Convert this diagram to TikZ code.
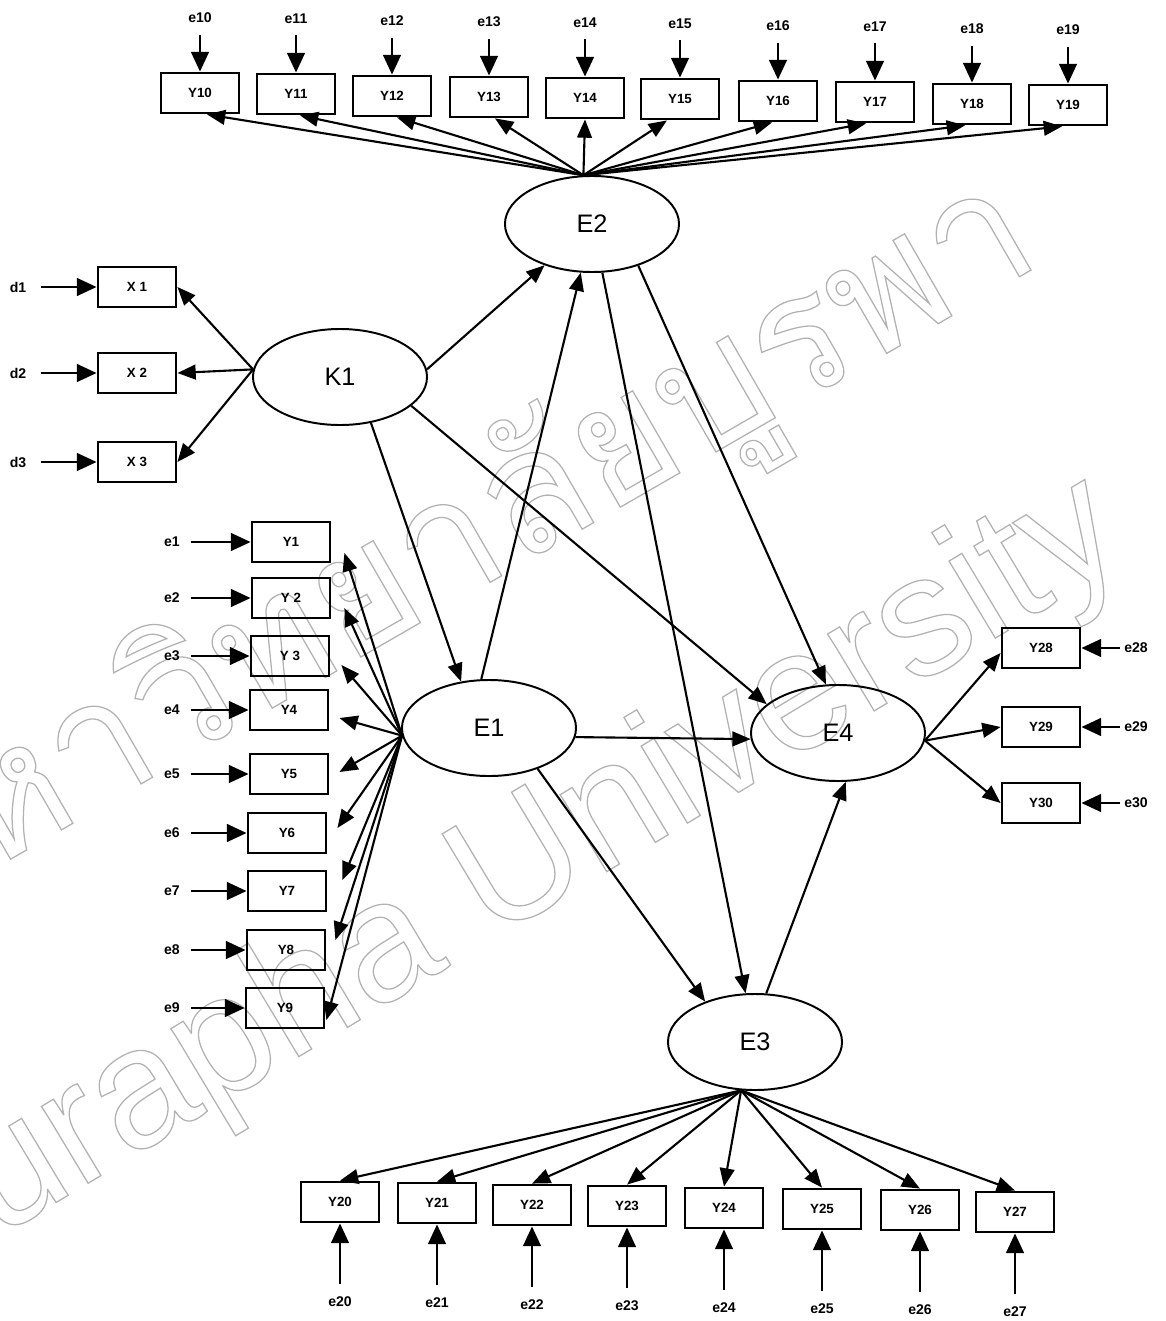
\documentclass[tikz,border=0pt]{standalone}
\usepackage{fontspec}
\setmainfont{Liberation Sans}
\newfontfamily\thaifont[Script=Thai]{Loma}
\usetikzlibrary{arrows.meta,shapes.geometric,calc}

% hollow (stroked only) glyphs for the background lettering
\newcommand\hollowtext[1]{\special{pdf:literal direct 1 Tr 0.9 w}#1\special{pdf:literal direct 0 Tr}}

\tikzset{
  obs/.style={draw, line width=2pt, minimum width=1.95cm, minimum height=1cm,
    inner sep=0pt, font=\fontsize{9.5}{9.5}\bfseries\selectfont},
  lat/.style={draw, ellipse, line width=1.4pt, minimum width=4.35cm,
    minimum height=2.4cm, inner sep=0pt, font=\fontsize{18}{18}\selectfont},
  errlabel/.style={inner sep=2pt, font=\fontsize{10}{10}\bfseries\selectfont},
  link/.style={line width=1.5pt, -{Triangle[length=13pt,width=10.5pt]}},
  errlink/.style={line width=1.9pt, -{Triangle[length=14pt,width=12.5pt]}, shorten <=#1},
  errlink/.default=6pt,
  wmtext/.style={text=black!30, inner sep=0pt}
}

\begin{document}
\begin{tikzpicture}[x=0.025cm, y=-0.025cm]
\useasboundingbox (0,0) rectangle (1165,1321);

% background lettering
\begin{scope}
  \clip (0,0) rectangle (1165,1321);
  \node[wmtext, rotate=30, anchor=base east] (wmthai) at (1045,262)
    {\fontsize{121}{121}\thaifont\hollowtext{มหาวิทยาลัยบูรพา}};
  \node[wmtext, rotate=31, anchor=base east] (wmlatin) at (1132,556)
    {\fontsize{121}{121}\selectfont\hollowtext{Burapha University}};
\end{scope}

% latent variables
\node[lat] (K1) at (340,377) {K1};
\node[lat] (E2) at (592,224) {E2};
\node[lat] (E1) at (489,728) {E1};
\node[lat] (E4) at (838,733) {E4};
\node[lat] (E3) at (755,1042) {E3};

% exogenous indicators
\foreach \n/\lab/\y in {1/X 1/287, 2/X 2/373, 3/X 3/462} {
  \node[obs] (X\n) at (137,\y) {\lab};
  \node[errlabel] (d\n) at (18,\y) {d\n};
  \draw[errlink=8pt] (d\n) -- (X\n);
}

% indicators of E2 (top row)
\foreach \n/\x/\y in {10/200/93, 11/296/94, 12/392/96, 13/489/97, 14/585/98,
                      15/680/99, 16/778/101, 17/875/102, 18/972/104, 19/1068/105} {
  \node[obs] (Y\n) at (\x,\y) {Y\n};
  \node[errlabel] (e\n) at (\x,\y-75) {e\n};
  \draw[errlink=6pt] (e\n) -- (Y\n);
}

% indicators of E1 (left column)
\foreach \n/\lab/\x/\y in {1/Y1/291/542, 2/Y 2/291/598, 3/Y 3/290/656, 4/Y4/289/710,
                           5/Y5/289/774, 6/Y6/287/833, 7/Y7/287/891, 8/Y8/286/950,
                           9/Y9/285/1008} {
  \node[obs] (Y\n) at (\x,\y) {\lab};
  \node[errlabel] (e\n) at (172,\y) {e\n};
  \draw[errlink=6pt] (e\n) -- (Y\n);
}

% indicators of E3 (bottom row)
\foreach \n/\x/\y in {20/340/1202, 21/437/1203, 22/532/1205, 23/627/1206,
                      24/724/1208, 25/822/1209, 26/920/1210, 27/1015/1212} {
  \node[obs] (Y\n) at (\x,\y) {Y\n};
  \node[errlabel] (e\n) at (\x,\y+100) {e\n};
  \draw[errlink=7pt] (e\n) -- (Y\n);
}

% indicators of E4 (right column)
\foreach \n/\y in {28/648, 29/727, 30/803} {
  \node[obs] (Y\n) at (1041,\y) {Y\n};
  \node[errlabel] (e\n) at (1136,\y) {e\n};
  \draw[errlink=1pt] (e\n) -- (Y\n);
}

% measurement paths
\foreach \n in {1,2,3} \draw[link] (K1.175) -- (X\n.east);
\foreach \n/\dx in {10/7, 11/4, 12/5, 13/6, 14/0, 15/-13, 16/-6, 17/-9, 18/-7, 19/-6}
  \draw[link] (E2.100) -- ($(Y\n.south)+(\dx,0)$);
\foreach \n/\dx/\dy in {1/13/11, 2/13/10, 3/11/9, 4/10/8, 5/10/-2, 6/10/-5,
                        7/15/-11, 8/9/-10, 9/1/12}
  \draw[link] (E1.185) -- ($(Y\n.east)+(\dx,\dy)$);
\foreach \n in {20,...,27} \draw[link] (E3.254) -- (Y\n.north);
\draw[link] (E4.355) -- ($(Y28.west)+(0,5)$);
\draw[link] (E4.355) -- (Y29.west);
\draw[link] (E4.355) -- (Y30.west);

% structural paths
\draw[link] (K1.5)   -- (E2.221);
\draw[link] (K1.-56) -- (E1.121);
\draw[link] (K1.-22) -- (E4.158);
\draw[link] (E1.99)  -- (E2.257);
\draw[link] (E2.282) -- (E3.101);
\draw[link] (E2.318) -- (E4.104);
\draw[link] (E1.-6)  -- (E4.184);
\draw[link] (E1.-40) -- (E3.141);
\draw[link] (E3.77)  -- (E4.279);
\end{tikzpicture}
\end{document}
